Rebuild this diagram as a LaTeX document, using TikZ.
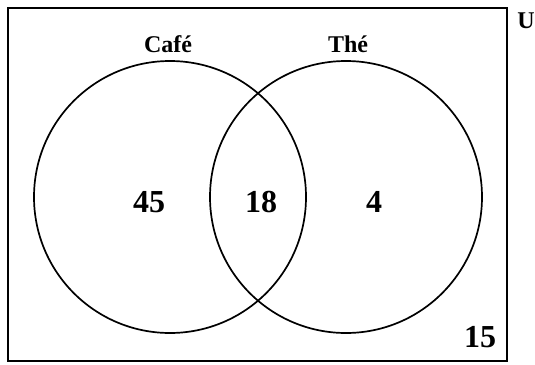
\documentclass[tikz,border=0pt]{standalone}
\usepackage{fontspec}
\setmainfont{Liberation Serif}
\usetikzlibrary{positioning}

\begin{document}
\begin{tikzpicture}[
        x=1pt, y=-1pt,
        setcircle/.style={draw, circle, line width=1.7pt, minimum size=272pt, inner sep=0pt},
        setlabel/.style={font=\fontsize{24}{26}\selectfont\bfseries},
        count/.style={font=\fontsize{32}{34}\selectfont\bfseries}
    ]
    \useasboundingbox (0,0) rectangle (535,364);
    % Universe
    \draw[line width=1.7pt] (8,8) rectangle (507,361);
    \node[setlabel] (univ) at (526,21) {U};

    % Two sets
    \node[setcircle] (cafe) at (170,197) {};
    \node[setcircle] (the) at (346,197) {};
    \node[setlabel] (cafe_label) at (168,44) {Café};
    \node[setlabel] (the_label) at (348,44) {Thé};

    % Counts in each region
    \node[count] (only_cafe) at (149,202) {45};
    \node[count] (both) at (261,202) {18};
    \node[count] (only_the) at (374,202) {4};
    \node[count] (neither) at (480,337) {15};
\end{tikzpicture}
\end{document}
